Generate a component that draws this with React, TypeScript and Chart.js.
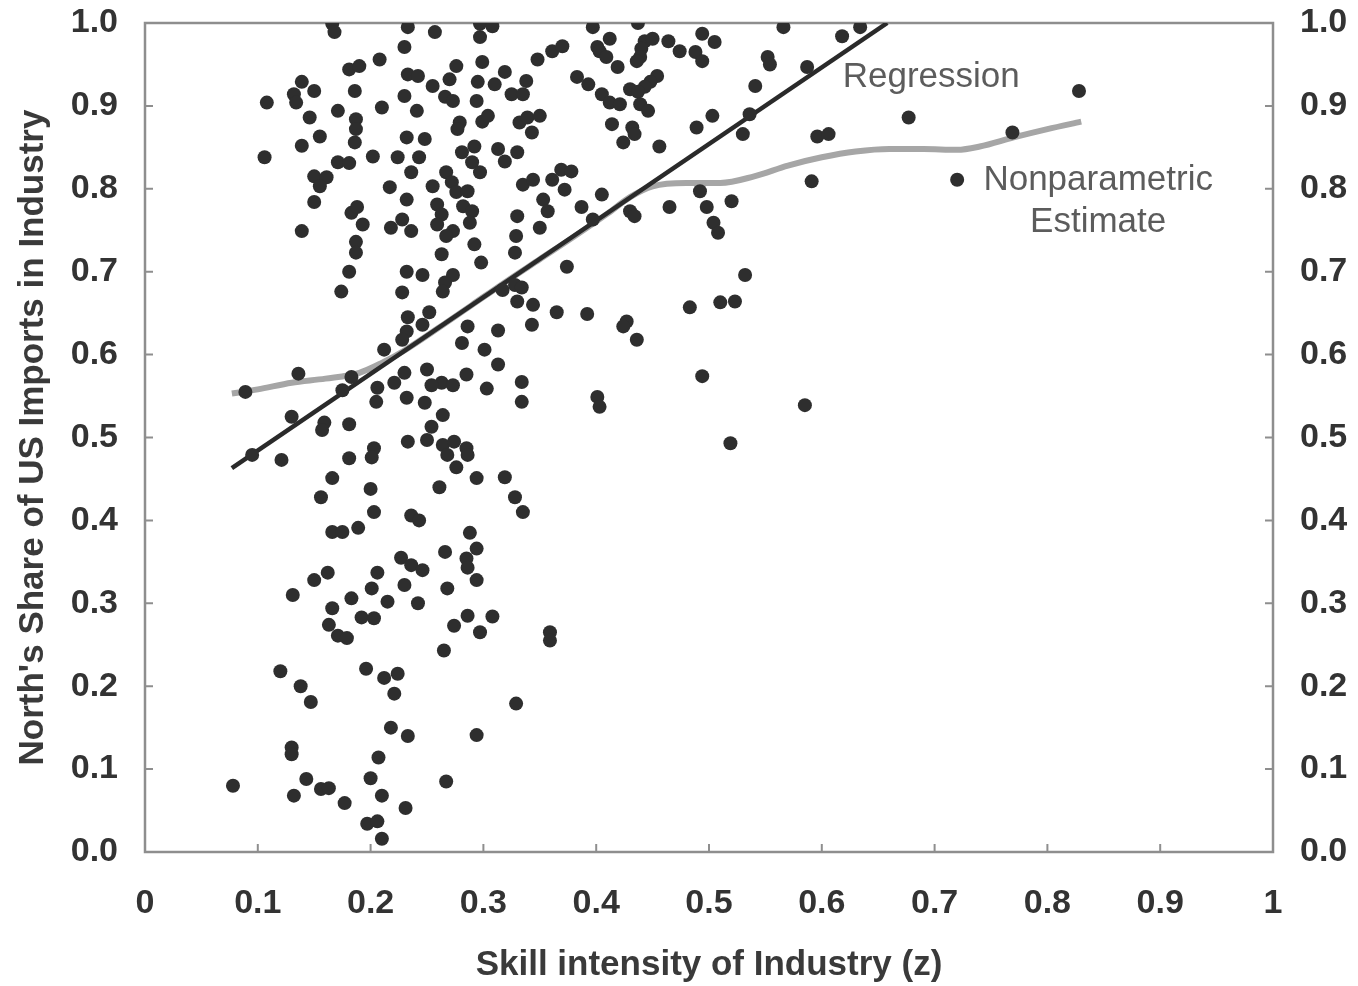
import React, { useEffect, useRef } from "react";
import { Chart, registerables } from "chart.js";

Chart.register(...registerables);

// Scatter points: [skill intensity z, North's share of US imports]
const industryPoints: [number, number][] = [
  [0.166,0.999],[0.168,0.989],[0.233,0.995],[0.230,0.971],[0.208,0.956],[0.181,0.944],[0.190,0.948],[0.233,0.938],
  [0.139,0.929],[0.150,0.918],[0.132,0.914],[0.134,0.904],[0.108,0.904],[0.186,0.918],[0.230,0.912],[0.210,0.898],
  [0.171,0.894],[0.146,0.886],[0.187,0.884],[0.187,0.872],[0.155,0.863],[0.186,0.856],[0.139,0.852],[0.232,0.862],
  [0.106,0.838],[0.202,0.839],[0.171,0.832],[0.181,0.831],[0.224,0.838],[0.236,0.820],[0.150,0.815],[0.161,0.814],
  [0.155,0.803],[0.217,0.802],[0.150,0.784],[0.232,0.787],[0.183,0.771],[0.188,0.778],[0.193,0.757],[0.218,0.753],
  [0.228,0.763],[0.236,0.749],[0.139,0.749],[0.187,0.736],[0.187,0.723],[0.181,0.700],[0.232,0.700],[0.174,0.676],
  [0.228,0.675],
  [0.233,0.645],[0.232,0.628],[0.228,0.618],[0.212,0.606],[0.230,0.578],[0.221,0.566],[0.232,0.548],[0.206,0.560],
  [0.205,0.543],[0.183,0.573],[0.175,0.557],[0.136,0.577],[0.089,0.555],[0.130,0.525],[0.159,0.518],[0.157,0.509],
  [0.181,0.516],[0.095,0.479],[0.121,0.473],[0.203,0.487],[0.201,0.476],[0.181,0.475],[0.233,0.495],[0.166,0.451],
  [0.156,0.428],[0.200,0.438],[0.203,0.410],[0.166,0.386],[0.175,0.386],[0.189,0.391],[0.236,0.406],[0.227,0.355],
  [0.236,0.346],[0.206,0.337],[0.162,0.337],
  [0.150,0.328],[0.201,0.318],[0.230,0.322],[0.131,0.310],[0.183,0.306],[0.215,0.302],[0.166,0.294],[0.192,0.283],
  [0.203,0.282],[0.163,0.274],[0.171,0.261],[0.179,0.258],[0.196,0.221],[0.212,0.210],[0.224,0.215],[0.221,0.191],
  [0.120,0.218],[0.138,0.200],[0.147,0.181],[0.218,0.150],[0.233,0.140],[0.130,0.126],[0.130,0.118],[0.207,0.114],
  [0.200,0.089],[0.143,0.088],[0.156,0.076],[0.163,0.077],[0.078,0.080],[0.132,0.068],[0.210,0.068],[0.177,0.059],
  [0.231,0.053],[0.197,0.034],[0.206,0.037],[0.210,0.016],
  [0.257,0.989],[0.297,0.999],[0.308,0.996],[0.297,0.983],[0.397,0.995],[0.242,0.936],[0.276,0.948],[0.299,0.953],
  [0.255,0.924],[0.270,0.932],[0.295,0.929],[0.310,0.926],[0.319,0.941],[0.338,0.930],[0.325,0.914],[0.335,0.914],
  [0.348,0.956],[0.361,0.966],[0.370,0.972],[0.383,0.935],[0.393,0.926],[0.401,0.971],[0.405,0.914],
  [0.266,0.911],[0.273,0.906],[0.294,0.906],[0.241,0.894],[0.279,0.880],[0.277,0.872],[0.299,0.881],[0.304,0.888],
  [0.332,0.880],[0.339,0.886],[0.350,0.888],[0.343,0.868],[0.248,0.860],[0.243,0.838],[0.292,0.851],[0.281,0.844],
  [0.313,0.848],[0.319,0.833],[0.330,0.844],[0.290,0.832],[0.297,0.820],[0.267,0.820],[0.255,0.803],[0.272,0.808],
  [0.276,0.796],[0.286,0.797],[0.335,0.805],[0.344,0.811],[0.361,0.811],[0.369,0.823],[0.378,0.821],[0.372,0.799],
  [0.353,0.787],[0.357,0.773],[0.330,0.767],[0.350,0.753],[0.387,0.778],[0.397,0.763],[0.405,0.793],[0.259,0.781],
  [0.263,0.769],[0.282,0.779],[0.290,0.773],[0.288,0.759],[0.259,0.757],[0.273,0.749],[0.267,0.743],[0.329,0.743],
  [0.328,0.723],[0.292,0.733],[0.263,0.721],[0.298,0.711],[0.374,0.706],[0.246,0.696],[0.273,0.696],[0.266,0.687],
  [0.328,0.684],[0.334,0.681],
  [0.264,0.676],[0.317,0.678],[0.330,0.664],[0.344,0.660],[0.365,0.651],[0.392,0.649],[0.343,0.636],[0.313,0.629],
  [0.286,0.634],[0.252,0.651],[0.246,0.636],[0.281,0.614],[0.301,0.606],[0.313,0.588],[0.285,0.576],[0.303,0.559],
  [0.334,0.567],[0.334,0.543],[0.401,0.549],[0.403,0.537],[0.250,0.582],[0.263,0.566],[0.273,0.563],[0.254,0.563],
  [0.248,0.542],[0.264,0.527],[0.254,0.513],[0.250,0.497],[0.264,0.491],[0.274,0.495],[0.268,0.479],[0.285,0.487],
  [0.286,0.479],[0.276,0.464],[0.294,0.451],[0.319,0.452],[0.261,0.440],[0.328,0.428],[0.335,0.410],[0.243,0.400],
  [0.288,0.385],[0.294,0.366],[0.266,0.362],[0.285,0.354],[0.286,0.343],[0.246,0.340],
  [0.294,0.328],[0.268,0.318],[0.242,0.300],[0.286,0.285],[0.274,0.273],[0.308,0.284],[0.297,0.265],[0.359,0.265],
  [0.359,0.255],[0.265,0.243],[0.329,0.179],[0.294,0.141],[0.267,0.085],
  [0.437,1.000],[0.566,0.995],[0.634,0.995],[0.618,0.984],[0.412,0.981],[0.443,0.978],[0.450,0.981],[0.464,0.978],
  [0.494,0.987],[0.505,0.977],[0.474,0.966],[0.403,0.966],[0.409,0.959],[0.440,0.969],[0.439,0.959],[0.436,0.954],
  [0.419,0.947],[0.488,0.965],[0.494,0.954],[0.552,0.959],[0.554,0.950],[0.587,0.947],[0.454,0.936],[0.448,0.929],
  [0.443,0.923],[0.430,0.920],[0.437,0.917],[0.541,0.924],[0.412,0.904],[0.421,0.902],[0.439,0.902],[0.446,0.894],
  [0.414,0.878],[0.432,0.874],[0.434,0.866],[0.424,0.856],[0.456,0.851],[0.489,0.874],[0.503,0.888],[0.530,0.866],
  [0.536,0.890],[0.596,0.863],[0.606,0.866],[0.591,0.809],[0.430,0.773],[0.434,0.767],[0.465,0.778],[0.492,0.797],
  [0.498,0.778],[0.504,0.759],[0.508,0.747],[0.520,0.785],[0.532,0.696],[0.483,0.657],[0.510,0.663],[0.523,0.664],
  [0.427,0.640],[0.424,0.634],[0.436,0.618],[0.494,0.574],[0.585,0.539],[0.519,0.493],
  [0.828,0.918],[0.677,0.886],[0.769,0.868],[0.720,0.811],
];

// Fitted regression line end points
const regressionX = [0.077, 0.658];
const regressionY = [0.463, 1.0];

// Nonparametric estimate curve
const nonparamX = [0.077,0.10,0.13,0.16,0.19,0.21,0.23,0.26,0.29,0.32,0.35,0.38,0.41,0.43,0.45,0.48,0.51,0.54,0.57,0.60,0.63,0.66,0.69,0.72,0.74,0.77,0.80,0.83];
const nonparamY = [0.553,0.558,0.566,0.571,0.578,0.590,0.605,0.632,0.660,0.688,0.715,0.742,0.770,0.790,0.803,0.807,0.807,0.815,0.828,0.838,0.845,0.848,0.848,0.847,0.851,0.862,0.872,0.881];

const xTickValues = [0, 0.1, 0.2, 0.3, 0.4, 0.5, 0.6, 0.7, 0.8, 0.9, 1];
const yTickValues = [0, 0.1, 0.2, 0.3, 0.4, 0.5, 0.6, 0.7, 0.8, 0.9, 1];

const xTitle = "Skill intensity of Industry (z)";
const yTitle = "North's Share of US Imports in Industry";
const regressionLabel = "Regression";
const nonparamLabel = ["Nonparametric", "Estimate"];

const FONT = "'Liberation Sans', Arial, Helvetica, sans-serif";
const FRAME = "#8e8e8e";

const framePlugin = {
  id: "frameAndTicks",
  beforeDatasetsDraw(chart: any) {
    const { ctx, chartArea: a, scales } = chart;
    ctx.save();
    ctx.strokeStyle = FRAME;
    ctx.lineWidth = 2.5;
    ctx.strokeRect(a.left, a.top, a.right - a.left, a.bottom - a.top);
    ctx.lineWidth = 2;
    const len = 8;
    xTickValues.forEach((v) => {
      const px = scales.x.getPixelForValue(v);
      ctx.beginPath();
      ctx.moveTo(px, a.bottom);
      ctx.lineTo(px, a.bottom - len);
      ctx.stroke();
    });
    yTickValues.forEach((v) => {
      const py = scales.y.getPixelForValue(v);
      ctx.beginPath();
      ctx.moveTo(a.left, py);
      ctx.lineTo(a.left + len, py);
      ctx.moveTo(a.right, py);
      ctx.lineTo(a.right - len, py);
      ctx.stroke();
    });
    ctx.restore();
  },
  afterDatasetsDraw(chart: any) {
    const { ctx, scales } = chart;
    ctx.save();
    ctx.fillStyle = "#5c5c5c";
    ctx.font = `35px ${FONT}`;
    ctx.textAlign = "center";
    ctx.textBaseline = "middle";
    ctx.fillText(regressionLabel, scales.x.getPixelForValue(0.697), scales.y.getPixelForValue(0.935));
    const cx = scales.x.getPixelForValue(0.845);
    ctx.fillText(nonparamLabel[0], cx, scales.y.getPixelForValue(0.81));
    ctx.fillText(nonparamLabel[1], cx, scales.y.getPixelForValue(0.759));
    ctx.restore();
  },
};

const fmtY = (v: number) => (Math.round(v * 10) / 10).toFixed(1);
const fmtX = (v: number) => {
  const r = Math.round(v * 10) / 10;
  return r === 0 ? "0" : r === 1 ? "1" : r.toFixed(1);
};

export default function App() {
  const ref = useRef<HTMLCanvasElement | null>(null);

  useEffect(() => {
    if (!ref.current) return;
    const tickFont = { family: FONT, size: 34, weight: "bold" as const };
    const titleFont = { family: FONT, size: 35, weight: "bold" as const };
    const fitY = (w: number) => (s: any) => {
      s.width = w;
      s.paddingTop = 0;
      s.paddingBottom = 0;
    };
    const chart = new Chart(ref.current, {
      type: "scatter",
      data: {
        datasets: [
          {
            label: "Industries",
            data: industryPoints.map(([x, y]) => ({ x, y })),
            pointRadius: 7,
            pointBackgroundColor: "#2e2e2e",
            pointBorderWidth: 0,
            showLine: false,
            order: 1,
          },
          {
            label: "Regression",
            data: regressionX.map((x, i) => ({ x, y: regressionY[i] })),
            showLine: true,
            borderColor: "#2a2a2a",
            borderWidth: 4.5,
            pointRadius: 0,
            order: 2,
          },
          {
            label: "Nonparametric Estimate",
            data: nonparamX.map((x, i) => ({ x, y: nonparamY[i] })),
            showLine: true,
            borderColor: "#a6a6a6",
            borderWidth: 6,
            pointRadius: 0,
            cubicInterpolationMode: "monotone",
            order: 3,
          },
        ],
      },
      options: {
        responsive: false,
        animation: false,
        layout: { padding: { top: 23, left: 0, right: 0, bottom: 0 } },
        plugins: { legend: { display: false }, tooltip: { enabled: false } },
        scales: {
          x: {
            type: "linear",
            min: 0,
            max: 1,
            afterBuildTicks: (s: any) => { s.ticks = xTickValues.map((value) => ({ value })); },
            afterFit: (s: any) => { s.height = 134; },
            grid: { display: false, drawTicks: false },
            border: { display: false },
            ticks: { autoSkip: false, maxRotation: 0, padding: 31, color: "#333", font: tickFont, callback: (v: any) => fmtX(Number(v)) },
            title: { display: true, text: xTitle, color: "#3a3a3a", font: titleFont, padding: { top: 0, bottom: 0 } },
          },
          y: {
            type: "linear",
            position: "left",
            min: 0,
            max: 1,
            afterBuildTicks: (s: any) => { s.ticks = yTickValues.map((value) => ({ value })); },
            afterFit: fitY(145),
            grid: { display: false, drawTicks: false },
            border: { display: false },
            ticks: { autoSkip: false, padding: 27, color: "#333", font: tickFont, callback: (v: any) => fmtY(Number(v)) },
            title: { display: true, text: yTitle, color: "#3a3a3a", font: titleFont, padding: { top: 12, bottom: 0 } },
          },
          y2: {
            type: "linear",
            position: "right",
            min: 0,
            max: 1,
            afterBuildTicks: (s: any) => { s.ticks = yTickValues.map((value) => ({ value })); },
            afterFit: fitY(85),
            grid: { display: false, drawTicks: false },
            border: { display: false },
            ticks: { autoSkip: false, padding: 27, color: "#333", font: tickFont, callback: (v: any) => fmtY(Number(v)) },
          },
        },
      },
      plugins: [framePlugin],
    });
    return () => chart.destroy();
  }, []);

  return (
    <div style={{ position: "absolute", left: 0, top: 0, width: 1358, height: 986, background: "#fff" }}>
      <canvas ref={ref} width={1358} height={986} />
    </div>
  );
}
